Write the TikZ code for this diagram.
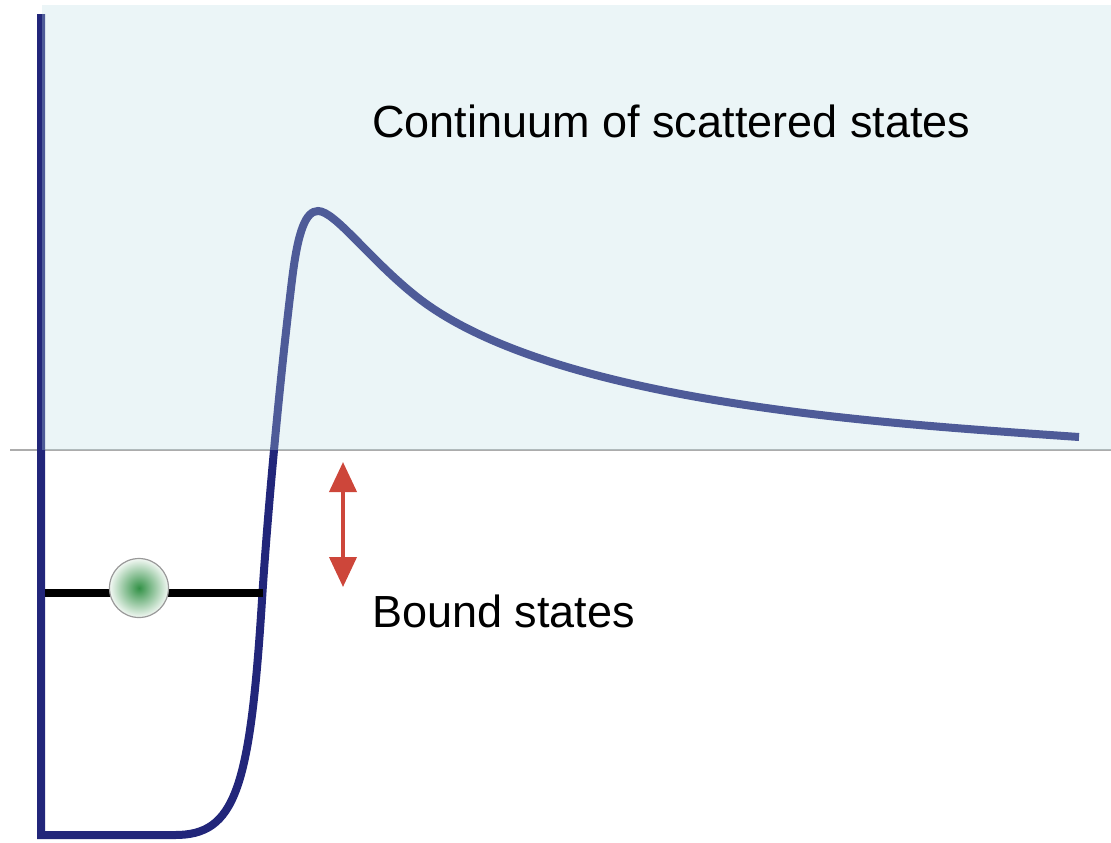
\documentclass[tikz,border=0pt]{standalone}
\usepackage{fontspec}
\setmainfont{Liberation Sans}
\usetikzlibrary{arrows.meta}
\definecolor{wellnavy}{RGB}{34,38,122}
\definecolor{contblue}{RGB}{187,221,228}
\definecolor{gapred}{RGB}{205,70,58}
\definecolor{ballgreen}{RGB}{50,145,70}

\begin{document}
\begin{tikzpicture}[
  x=0.5pt, y=-0.5pt,
  well/.style={draw=wellnavy, line width=4pt, line join=miter},
  zeroline/.style={draw=gray!65, line width=1pt},
  level/.style={draw=black, line width=3.8pt},
  particle/.style={circle, draw=gray!80, line width=0.6pt, minimum size=29.5pt, inner sep=0pt,
    inner color=ballgreen, outer color=ballgreen!6!white},
  gaparrow/.style={draw=gapred, line width=2pt, {Triangle[length=15pt,width=13.5pt]}-{Triangle[length=15pt,width=13.5pt]}},
  lab/.style={anchor=base west, inner sep=0pt, font=\fontsize{22.5}{27}\selectfont}
]
\useasboundingbox (0,0) rectangle (1111,842);

% Zero of energy
\coordinate (zeroL) at (10,450);
\coordinate (zeroR) at (1111,450);
\draw[zeroline] (zeroL) -- (zeroR);

% Potential well
\draw[well] (41,14) -- (41,835) -- (175,835)
  .. controls (235,835) and (250,790) .. (262,600)
  .. controls (268,505) and (281,370) .. (292,280)
  .. controls (298,230) and (306,211) .. (318,211)
  .. controls (335,211) and (370,260) .. (417,297)
  .. controls (487,352) and (606,380) .. (686,395)
  .. controls (816,419) and (949,428) .. (1079,437);

% Continuum region
\fill[contblue, fill opacity=0.29] (42,5) rectangle (1111,450);

% Bound level with particle
\coordinate (lvlL) at (45,593);
\coordinate (lvlR) at (263,593);
\draw[level] (lvlL) -- (lvlR);
\node[particle] (ball) at (139,588) {};

% Binding gap
\coordinate (gapTop) at (343,462);
\coordinate (gapBot) at (343,587);
\draw[gaparrow] (gapTop) -- (gapBot);

% Labels
\node[lab] (cont) at (372,137) {Continuum of scattered states};
\node[lab] (bound) at (372,627) {Bound states};
\end{tikzpicture}
\end{document}
